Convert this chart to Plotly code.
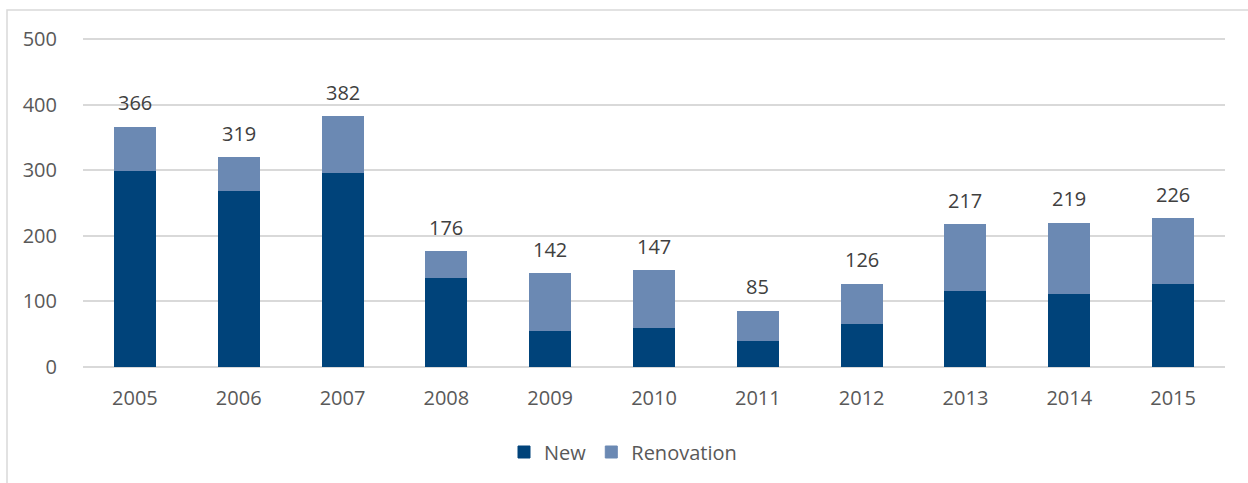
import plotly.graph_objects as go

years = ["2005", "2006", "2007", "2008", "2009", "2010", "2011", "2012", "2013", "2014", "2015"]
new_vals = [300, 269, 296, 136, 56, 61, 40, 66, 117, 112, 128]
totals = [366, 319, 382, 176, 142, 147, 85, 126, 217, 219, 226]
renov_vals = [t - n for t, n in zip(totals, new_vals)]

DARK = "#00437a"
LIGHT = "#6b89b3"
TXT = "#404040"
TICK = "#595959"
FONT = "Open Sans"

fig = go.Figure()
fig.add_trace(go.Bar(x=years, y=new_vals, name="New",
                     marker=dict(color=DARK, line=dict(width=1, color=DARK))))
fig.add_trace(go.Bar(x=years, y=renov_vals, name="Renovation",
                     marker=dict(color=LIGHT, line=dict(width=1, color=LIGHT))))

for i, t in enumerate(totals):
    fig.add_annotation(x=i, y=t, text=str(t), showarrow=False, yanchor="bottom",
                       yshift=9, font=dict(family=FONT, size=20, color=TXT))

W, H = 1248, 483
L, R, T, B = 83, 23, 36, 116
pw, ph = W - L - R, H - T - B

def px2x(px):
    return (px - L) / pw

def py2y(py):
    return (H - B - py) / ph

fig.add_shape(type="rect", xref="paper", yref="paper",
              x0=px2x(7), x1=px2x(1260), y0=py2y(500), y1=py2y(10),
              line=dict(color="#d9d9d9", width=1.5), fillcolor="rgba(0,0,0,0)", layer="below")

fig.update_layout(
    width=W, height=H,
    margin=dict(l=L, r=R, t=T, b=B),
    barmode="stack",
    bargap=0.605,
    plot_bgcolor="white", paper_bgcolor="white",
    font=dict(family=FONT, size=20, color=TICK),
    showlegend=True,
    legend=dict(orientation="h", x=px2x(623), xanchor="center", y=py2y(452), yanchor="middle",
                font=dict(family=FONT, size=20, color=TICK), traceorder="normal",
                itemwidth=30, bgcolor="rgba(0,0,0,0)"),
    xaxis=dict(type="category", range=[-0.5, len(years) - 0.5], showgrid=False, showline=False,
               ticks="outside", ticklen=13,
               tickcolor="rgba(0,0,0,0)", tickfont=dict(family=FONT, size=20, color=TICK)),
    yaxis=dict(range=[0, 505], tickvals=[0, 100, 200, 300, 400, 500], showgrid=True,
               gridcolor="#d9d9d9", gridwidth=1.5,
               zeroline=True, zerolinecolor="#d9d9d9", zerolinewidth=1.5, showline=False,
               ticks="outside", ticklen=21, tickcolor="rgba(0,0,0,0)",
               tickfont=dict(family=FONT, size=20, color=TICK)),
)

fig.write_html("out.html")
